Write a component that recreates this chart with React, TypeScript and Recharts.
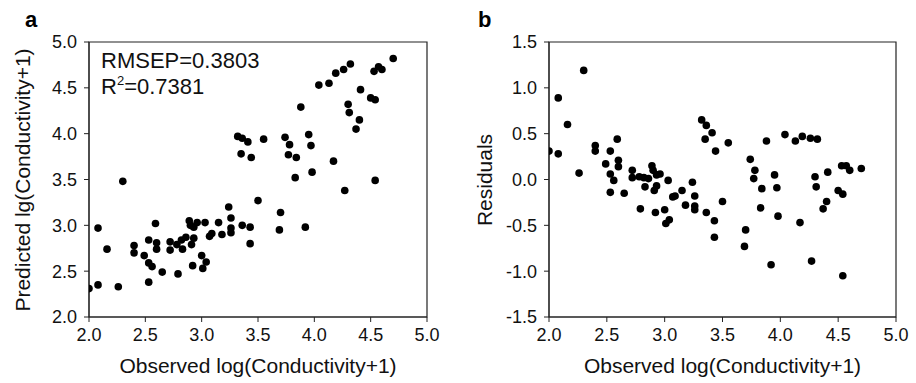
import { ScatterChart, Scatter, XAxis, YAxis, Label, ReferenceArea } from "recharts"

const observed = [
  2.0, 2.08, 2.08, 2.16, 2.26, 2.3, 2.4, 2.4, 2.49, 2.53, 2.53, 2.56, 2.53, 2.59, 2.6, 2.6, 2.65,
  2.72, 2.72, 2.78, 2.79, 2.82, 2.83, 2.86, 2.89, 2.9, 2.91, 2.93, 2.92, 2.96, 2.93, 3.0, 3.01,
  3.04, 3.03, 3.07, 3.09, 3.15, 3.18, 3.24, 3.26, 3.26, 3.26, 3.36, 3.43, 3.43, 3.32, 3.36, 3.41,
  3.35, 3.44, 3.55, 3.5, 3.7, 3.69, 3.74, 3.78, 3.77, 3.84, 3.83, 3.88, 3.92, 3.95, 3.97, 3.98,
  4.04, 4.13, 4.17, 4.19, 4.26, 4.27, 4.32, 4.3, 4.31, 4.4, 4.37, 4.41, 4.5, 4.54, 4.53, 4.57,
  4.6, 4.54, 4.7,
]

// panel a: predicted log(Conductivity+1)
const predicted = [
  2.31, 2.35, 2.97, 2.74, 2.33, 3.48, 2.78, 2.7, 2.67, 2.84, 2.59, 2.55, 2.38, 3.02, 2.81, 2.74, 2.49,
  2.82, 2.73, 2.79, 2.47, 2.84, 2.74, 2.87, 3.05, 3.0, 2.79, 2.86, 2.56, 3.03, 2.98, 2.67, 2.53,
  2.6, 3.03, 2.88, 2.91, 3.03, 2.9, 3.2, 3.08, 2.97, 2.92, 3.0, 2.98, 2.8, 3.97, 3.95, 3.91,
  3.78, 3.74, 3.94, 3.27, 3.14, 2.95, 3.96, 3.88, 3.77, 3.74, 3.52, 4.29, 2.98, 3.99, 3.87, 3.58,
  4.53, 4.55, 3.7, 4.66, 4.7, 3.38, 4.76, 4.32, 4.23, 4.15, 4.05, 4.48, 4.39, 4.37, 4.68, 4.73,
  4.7, 3.49, 4.82,
]

// panel b: residuals
const residual = [
  0.31, 0.28, 0.89, 0.6, 0.07, 1.19, 0.37, 0.31, 0.17, 0.31, 0.06, -0.01, -0.14, 0.44, 0.21, 0.14, -0.15,
  0.1, 0.02, 0.03, -0.32, 0.02, -0.08, 0.01, 0.15, 0.1, -0.12, -0.07, -0.36, 0.06, 0.05, -0.33, -0.48,
  -0.44, -0.01, -0.19, -0.18, -0.12, -0.28, -0.03, -0.18, -0.29, -0.33, -0.36, -0.45, -0.63, 0.65, 0.59, 0.51,
  0.44, 0.31, 0.4, -0.24, -0.55, -0.73, 0.22, 0.1, 0.01, -0.1, -0.31, 0.42, -0.93, 0.05, -0.09, -0.4,
  0.49, 0.42, -0.47, 0.47, 0.45, -0.89, 0.44, 0.03, -0.08, -0.24, -0.32, 0.08, -0.12, -0.16, 0.15, 0.15,
  0.1, -1.05, 0.12,
]

const xTicks = [2.0, 2.5, 3.0, 3.5, 4.0, 4.5, 5.0]
const predTicks = [2.0, 2.5, 3.0, 3.5, 4.0, 4.5, 5.0]
const resTicks = [-1.5, -1.0, -0.5, 0.0, 0.5, 1.0, 1.5]

const rows = observed.map((x, i) => ({ obs: x, pred: predicted[i], res: residual[i] }))

const FONT = "'Liberation Sans', Arial, sans-serif"
const AXIS = "#222"
const tickStyle = { fontSize: 18, fill: "#111", fontFamily: FONT }
const fmt = (v: number) => v.toFixed(1)

const Dot = (props: any) => <circle cx={props.cx} cy={props.cy} r={3.8} fill="#000" />

function YTitle({ text, x, y }: { text: string; x: number; y: number }) {
  return (
    <text
      x={x}
      y={y}
      transform={`rotate(-90 ${x} ${y})`}
      textAnchor="middle"
      dominantBaseline="central"
      fontSize={21}
      fontFamily={FONT}
      fill="#111"
    >
      {text}
    </text>
  )
}

function Panel({ yKey, yTicks, yTitle, yDomain, titleX, marginRight }: any) {
  return (
    <ScatterChart width={460} height={383} margin={{ top: 42, right: marginRight, left: 0, bottom: 6 }}>
      <ReferenceArea
        x1={2}
        x2={5}
        y1={yDomain[0]}
        y2={yDomain[1]}
        fill="none"
        stroke={AXIS}
        strokeWidth={1.2}
        ifOverflow="visible"
      />
      <XAxis
        type="number"
        dataKey="obs"
        domain={[2, 5]}
        ticks={xTicks}
        tickFormatter={fmt}
        tickSize={5}
        tickMargin={6}
        height={60}
        stroke={AXIS}
        tick={tickStyle}
        allowDataOverflow
      >
        <Label
          value="Observed log(Conductivity+1)"
          position="insideBottom"
          offset={4}
          style={{ fontSize: 21, fontFamily: FONT, fill: "#111" }}
        />
      </XAxis>
      <YAxis
        type="number"
        dataKey={yKey}
        domain={yDomain}
        ticks={yTicks}
        tickFormatter={fmt}
        tickSize={5}
        tickMargin={7}
        width={89}
        stroke={AXIS}
        tick={tickStyle}
        allowDataOverflow
      >
        <Label content={() => <YTitle text={yTitle} x={titleX} y={180} />} />
      </YAxis>
      <Scatter data={rows} shape={Dot} isAnimationActive={false} />
    </ScatterChart>
  )
}

export default function App() {
  return (
    <div style={{ position: "absolute", left: 0, top: 0, width: 916, height: 383, background: "#fff" }}>
      <div style={{ position: "absolute", left: 0, top: 0 }}>
        <Panel yKey="pred" yTicks={predTicks} yTitle="Predicted lg(Conductivity+1)" yDomain={[2, 5]} titleX={22} marginRight={33} />
      </div>
      <div style={{ position: "absolute", left: 460, top: 0 }}>
        <Panel yKey="res" yTicks={resTicks} yTitle="Residuals" yDomain={[-1.5, 1.5]} titleX={24} marginRight={24} />
      </div>
      <svg width={916} height={383} style={{ position: "absolute", left: 0, top: 0, pointerEvents: "none" }}>
        <text x={25} y={27} fontSize={22} fontWeight="bold" fontFamily={FONT} fill="#000">a</text>
        <text x={478} y={27} fontSize={22} fontWeight="bold" fontFamily={FONT} fill="#000">b</text>
        <text x={101} y={68} fontSize={22} fontFamily={FONT} fill="#111">RMSEP=0.3803</text>
        <text x={101} y={94} fontSize={22} fontFamily={FONT} fill="#111">
          R<tspan fontSize={13} dy={-9}>2</tspan>
          <tspan dy={9}>=0.7381</tspan>
        </text>
      </svg>
    </div>
  )
}
